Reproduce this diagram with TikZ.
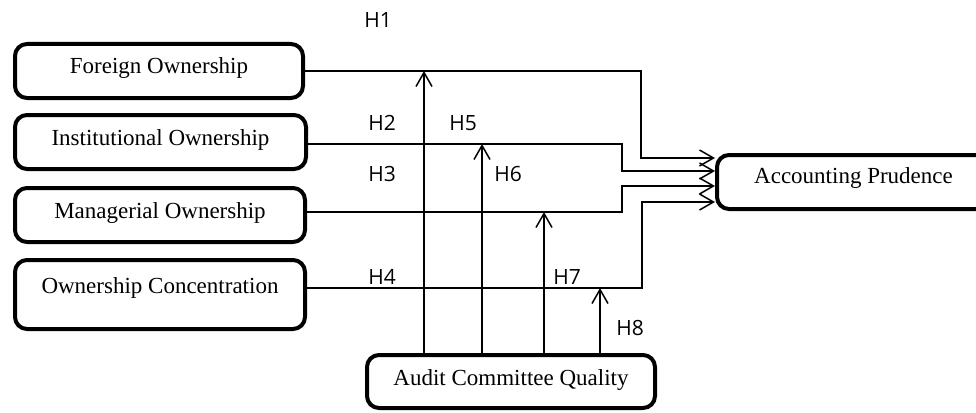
\documentclass[tikz,border=0pt]{standalone}
\usepackage{fontspec}
\setmainfont{Liberation Serif}
\newfontfamily\hfont{Open Sans}
\usetikzlibrary{arrows.meta}
\begin{document}
\begin{tikzpicture}[x=1pt,y=-1pt,
  box/.style={draw, line width=4pt, rounded corners=12pt,
    font=\fontsize{23}{27}\selectfont, inner sep=0pt,
    text height=15pt, text depth=9pt},
  conn/.style={line width=1.5pt},
  arr/.style={conn, -{Straight Barb[length=14pt,width=16pt,line width=1.5pt]}},
  hl/.style={font=\hfont\fontsize{21}{25}\selectfont, inner sep=0pt}]
\useasboundingbox (0,0) rectangle (976,412);
\clip (0,0) rectangle (976,412);

% boxes
\node[box, minimum width=288pt, minimum height=54pt] (fo) at (159,71) {Foreign Ownership};
\node[box, minimum width=291pt, minimum height=54pt] (in) at (160.5,142) {Institutional Ownership};
\node[box, minimum width=290pt, minimum height=54pt] (ma) at (160,215) {Managerial Ownership};
\node[box, minimum width=290pt, minimum height=69pt, text depth=18pt] (oc) at (160,294.5) {Ownership Concentration};
\node[box, minimum width=288pt, minimum height=53pt, text depth=8pt] (aq) at (511,381.5) {Audit Committee Quality};
\node[box, minimum width=273pt, minimum height=54pt, text depth=13pt] (acc) at (853.5,182) {Accounting Prudence};

% main paths
\draw[arr] (fo.east) -- (641,71) |- (acc.west |- 0,158);
\draw[arr] (in.east |- 0,144) -- (622,144) |- (acc.west |- 0,171);
\draw[arr] (ma.east |- 0,212) -- (622,212) |- (acc.west |- 0,186);
\draw[arr] (oc.east |- 0,288) -- (642,288) |- (acc.west |- 0,202);

% moderating arrows
\draw[arr] (aq.north -| 424,0) -- (424,71);
\draw[arr] (aq.north -| 482,0) -- (482,144);
\draw[arr] (aq.north -| 544,0) -- (544,212);
\draw[arr] (aq.north -| 600,0) -- (600,288);

% labels
\node[hl] (h1) at (378,20) {H1};
\node[hl] (h2) at (382,123) {H2};
\node[hl] (h5) at (463,123) {H5};
\node[hl] (h3) at (382,174) {H3};
\node[hl] (h6) at (508,174) {H6};
\node[hl] (h4) at (382,277) {H4};
\node[hl] (h7) at (567,277) {H7};
\node[hl] (h8) at (630,328) {H8};
\end{tikzpicture}
\end{document}
